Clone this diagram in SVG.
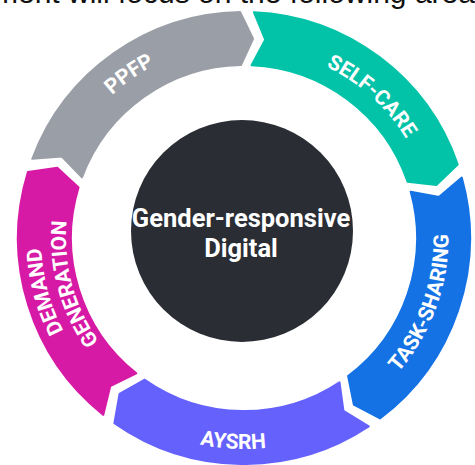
<svg xmlns="http://www.w3.org/2000/svg" xmlns:xlink="http://www.w3.org/1999/xlink" width="475" height="465" viewBox="0 0 475 465">
  <style>
    .seg { stroke-width: 2; stroke-linejoin: round; }
    .lbl { font-family: Roboto, "Liberation Sans", sans-serif; font-weight: bold; font-size: 21px; fill: #ffffff; }
    .ctr { font-family: Roboto, "Liberation Sans", sans-serif; font-weight: bold; font-size: 25.5px; fill: #ffffff; text-anchor: middle; }
    .top { font-family: "Liberation Sans", Arial, sans-serif; font-size: 30px; fill: #111111; }
  </style>
  <defs>
    <path id="tp-ppfp" d="M50.24,254.95 A194.5,194.5 0 0 1 326.2,61.72"/>
    <path id="tp-self" d="M185.29,57.3 A190,190 0 0 1 429.85,277.5"/>
    <path id="tp-task" d="M279.51,439.39 A204.5,204.5 0 0 0 400.66,106.55"/>
    <path id="tp-aysrh" d="M56,333.79 A211,211 0 0 0 420.96,352.92"/>
    <path id="tp-demand" d="M191.46,434.08 A203,203 0 0 1 100.46,94.46"/>
    <path id="tp-gen" d="M197.93,409.94 A178,178 0 0 1 118.13,112.13"/>
  </defs>
  <rect width="475" height="465" fill="#ffffff"/>
  <text class="top" x="-7" y="3">ment will focus on the following areas</text>

  <g id="ppfp">
    <path class="seg" fill="#9a9ea6" stroke="#9a9ea6" d="M32.31,158.85 A226,226 0 0 1 240.06,12.03 L253.05,38.71 L240.98,65.03 A173,173 0 0 0 81.96,177.41 L61.89,156.54 Z"/>
    <text class="lbl"><textPath xlink:href="#tp-ppfp" href="#tp-ppfp" startOffset="50%" text-anchor="middle">PPFP</textPath></text>
  </g>
  <g id="self-care">
    <path class="seg" fill="#02c3a8" stroke="#02c3a8" d="M253.86,12.21 A226,226 0 0 1 457.69,164.42 L436.34,185.02 L407.57,181.68 A173,173 0 0 0 251.55,65.16 L265.2,39.63 Z"/>
    <text class="lbl"><textPath xlink:href="#tp-self" href="#tp-self" startOffset="50%" text-anchor="middle">SELF-CARE</textPath></text>
  </g>
  <g id="task-sharing">
    <path class="seg" fill="#1472e4" stroke="#1472e4" d="M461.78,177.6 A226,226 0 0 1 380.01,418.49 L353.82,404.55 L348.11,376.16 A173,173 0 0 0 410.71,191.77 L439.21,196.86 Z"/>
    <text class="lbl"><textPath xlink:href="#tp-task" href="#tp-task" startOffset="50%" text-anchor="middle">TASK-SHARING</textPath></text>
  </g>
  <g id="aysrh">
    <path class="seg" fill="#6461fd" stroke="#6461fd" d="M368.74,426.46 A226,226 0 0 1 114.37,423.13 L119.54,393.91 L144.77,379.71 A173,173 0 0 0 339.49,382.26 L343.45,410.95 Z"/>
    <text class="lbl"><textPath xlink:href="#tp-aysrh" href="#tp-aysrh" startOffset="50%" text-anchor="middle">AYSRH</textPath></text>
  </g>
  <g id="demand-generation">
    <path class="seg" fill="#d71aa6" stroke="#d71aa6" d="M103.31,414.87 A226,226 0 0 1 27.88,171.92 L57.26,167.81 L78.56,187.42 A173,173 0 0 0 136.31,373.39 L110.28,386.06 Z"/>
    <text class="lbl"><textPath xlink:href="#tp-demand" href="#tp-demand" startOffset="50%" text-anchor="middle">DEMAND</textPath></text>
    <text class="lbl"><textPath xlink:href="#tp-gen" href="#tp-gen" startOffset="50%" text-anchor="middle">GENERATION</textPath></text>
  </g>
  <g id="center">
    <circle cx="242" cy="231" r="111" fill="#2a2d33"/>
    <text class="ctr" x="241" y="227">Gender-responsive</text>
    <text class="ctr" x="241" y="257">Digital</text>
  </g>
  <g id="connectors"></g>
</svg>
